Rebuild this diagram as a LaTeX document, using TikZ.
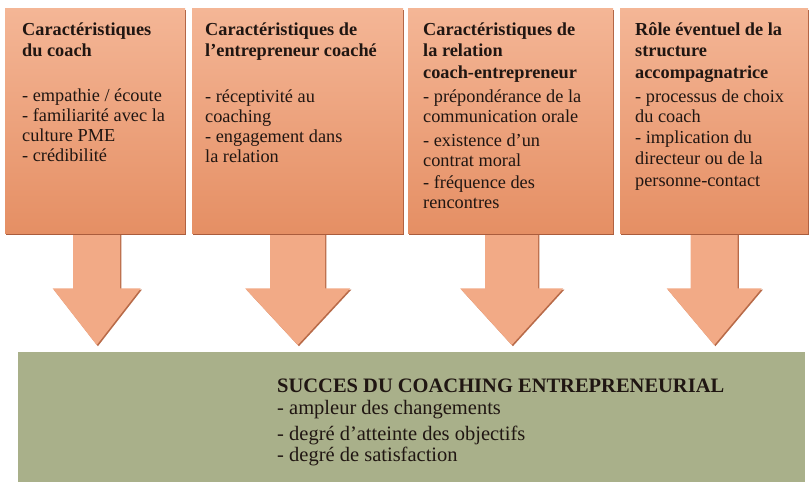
\documentclass[tikz,border=0pt]{standalone}
\usepackage{fontspec}
\setmainfont{Liberation Serif}
\usetikzlibrary{calc,shadows}
\pgfdeclarelayer{bg}
\pgfsetlayers{bg,main}
\definecolor{boxtop}{RGB}{244,182,150}
\definecolor{boxbot}{RGB}{229,143,100}
\definecolor{boxshadow}{RGB}{170,92,60}
\definecolor{arrowc}{RGB}{242,170,134}
\definecolor{arrowsh}{RGB}{184,106,72}
\definecolor{greenc}{RGB}{169,176,138}
\definecolor{txt}{RGB}{32,22,18}
\begin{document}
\begin{tikzpicture}[x=1pt,y=1pt,
  box/.style={rectangle, inner sep=0pt, top color=boxtop, bottom color=boxbot, draw=none, anchor=north west,
    drop shadow={shadow xshift=0.6pt, shadow yshift=-1.8pt, fill=boxshadow, opacity=1}},
  greenbox/.style={rectangle, inner sep=0pt, fill=greenc, draw=none, anchor=north west},
  boxtext/.style={anchor=base west, inner sep=0pt, text=txt, font=\fontsize{18.3}{20}\selectfont},
  maintext/.style={anchor=base west, inner sep=0pt, text=txt, font=\fontsize{20.5}{22}\selectfont},
  arrowbody/.style={fill=arrowc, draw=none,
    drop shadow={shadow xshift=1.2pt, shadow yshift=-1.2pt, fill=arrowsh, opacity=1}}
]
\useasboundingbox (0,0) rectangle (811,-487);

% boxes
\node[box, minimum width=180pt, minimum height=225pt] (b1) at (5,-8) {};
\node[box, minimum width=211pt, minimum height=225pt] (b2) at (192,-8) {};
\node[box, minimum width=205pt, minimum height=225pt] (b3) at (408,-8) {};
\node[box, minimum width=188pt, minimum height=225pt] (b4) at (620,-8) {};
\node[greenbox, minimum width=787pt, minimum height=130pt] (g) at (18,-352) {};

% texts
\node[boxtext] (t1) at ($(b1.north west)+(17,-28)$) {\parbox[t]{165pt}{\raggedright
  {\bfseries Caractéristiques\\[1pt] du coach}\\[25pt]
  - empathie / écoute\\
  - familiarité avec la\\
  culture PME\\
  - crédibilité}};
\node[boxtext] (t2) at ($(b2.north west)+(13,-28)$) {\parbox[t]{196pt}{\raggedright
  {\bfseries Caractéristiques de\\[1pt] l'entrepreneur coaché}\\[26pt]
  - réceptivité au\\
  coaching\\
  - engagement dans\\
  la relation}};
\node[boxtext] (t3) at ($(b3.north west)+(15,-28)$) {\parbox[t]{188pt}{\raggedright
  {\bfseries Caractéristiques de\\[1pt] la relation\\[2pt] coach-entrepreneur}\\[4pt]
  - prépondérance de la\\
  communication orale\\[4pt]
  - existence d'un\\
  contrat moral\\[2pt]
  - fréquence des\\
  rencontres}};
\node[boxtext] (t4) at ($(b4.north west)+(15,-28)$) {\parbox[t]{172pt}{\raggedright
  {\bfseries Rôle éventuel de la\\[1pt] structure\\[2pt] accompagnatrice}\\[4pt]
  - processus de choix\\
  du coach\\[1pt]
  - implication du\\[1pt]
  directeur ou de la\\[2pt]
  personne-contact}};
\node[maintext] (tg) at ($(g.north west)+(259,-40)$) {\parbox[t]{500pt}{\raggedright
  {\bfseries SUCCES DU COACHING ENTREPRENEURIAL}\\
  - ampleur des changements\\[4pt]
  - degré d'atteinte des objectifs\\[-1pt]
  - degré de satisfaction}};

% arrows (behind boxes)
\begin{pgfonlayer}{bg}
\fill[white] (0,0) rectangle (811,-487);
\foreach \b/\s/\h/\dx [count=\i] in {b1/23.5/44/1.5, b2/27.5/52.5/0, b3/26.5/51.5/1, b4/23.5/47.5/0} {
  \coordinate (tip\i) at ($(\b.south |- g.north)+(\dx,7)$);
  \coordinate (neck\i) at ($(\b.south)+(\dx,-55)$);
  \coordinate (root\i) at ($(\b.south)+(\dx,4)$);
  \path[arrowbody] ($(root\i)+(-\s,0)$) -- ($(neck\i)+(-\s,0)$) -- ($(neck\i)+(-\h,0)$)
    -- (tip\i) -- ($(neck\i)+(\h,0)$) -- ($(neck\i)+(\s,0)$) -- ($(root\i)+(\s,0)$) -- cycle;
}
\end{pgfonlayer}
\end{tikzpicture}
\end{document}
